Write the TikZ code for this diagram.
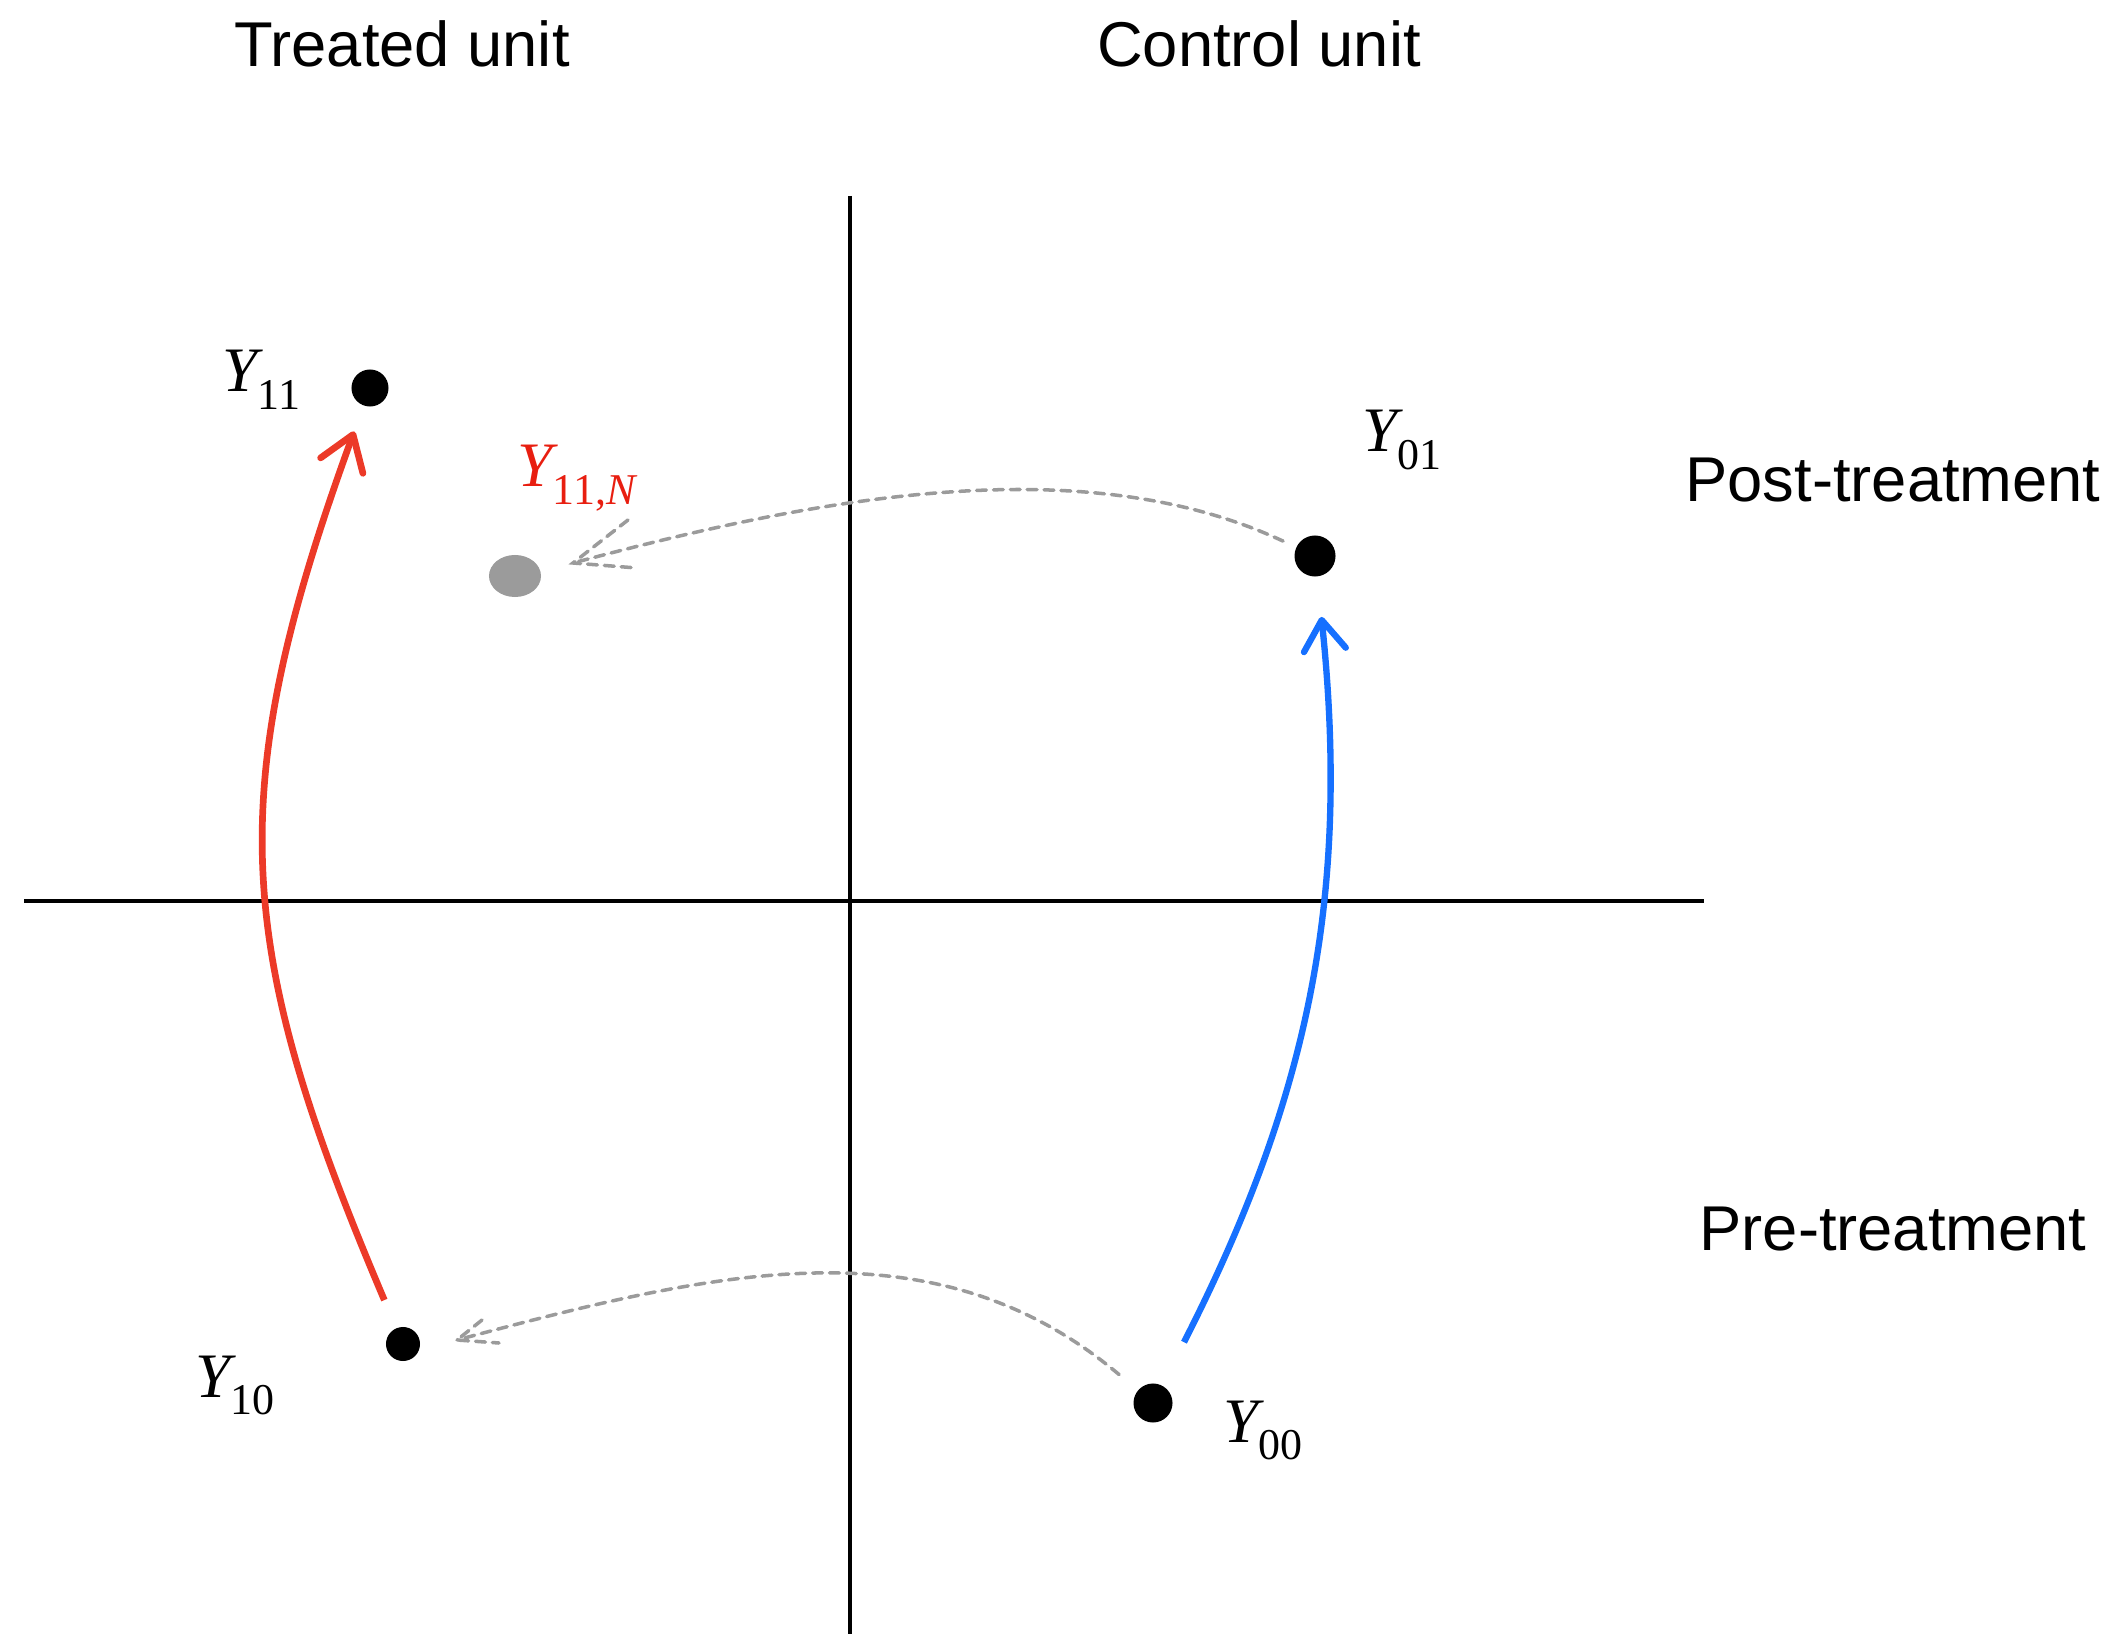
\documentclass[tikz,border=0pt]{standalone}
\usepackage{fontspec}
\setmainfont{Liberation Serif}
\newfontfamily\headfont{Liberation Sans}
\usetikzlibrary{arrows.meta,shapes.geometric}
\definecolor{treatred}{RGB}{236,58,40}
\definecolor{labelred}{RGB}{232,30,16}
\definecolor{ctrlblue}{RGB}{22,112,255}
\definecolor{dashgray}{RGB}{155,155,155}
\newcommand{\yvar}[1]{{\fontsize{18}{20}\selectfont\itshape Y}\raisebox{-0.17cm}{\fontsize{12.5}{14}\selectfont #1}}

\begin{document}
\begin{tikzpicture}[x=0.01cm, y=-0.01cm, >=stealth,
  dot/.style={circle, fill=black, inner sep=0pt, minimum size=0.37cm},
  lbl/.style={anchor=base west, inner sep=0pt},
  head/.style={font=\headfont\fontsize{18}{22}\selectfont, anchor=base, inner sep=0pt},
  ghost/.style={draw=dashgray, line width=1pt, dash pattern=on 2.8pt off 2pt, line cap=round}]
\useasboundingbox (0,0) rectangle (2115,1634);
% axes
\draw[line width=1.1pt] (850,196) -- (850,1634);
\draw[line width=1.1pt] (24,901) -- (1704,901);
% column and row titles
\node[head] (treated) at (402,67) {Treated unit};
\node[head] (control) at (1259,67) {Control unit};
\node[head] (post) at (1893,502) {Post-treatment};
\node[head] (pre) at (1893,1250) {Pre-treatment};
% outcomes
\node[dot] (y11) at (370,388) {};
\node[dot, minimum size=0.41cm] (y01) at (1315,556) {};
\node[dot, minimum size=0.34cm] (y10) at (403,1344) {};
\node[dot, minimum size=0.39cm] (y00) at (1153,1403) {};
\node[ellipse, fill=dashgray, inner sep=0pt, minimum width=0.52cm, minimum height=0.42cm] (y11n) at (515,576) {};
\node[lbl] (l11) at (222,392) {\yvar{11}};
\node[lbl, text=labelred] (l11n) at (517,487) {\yvar{11,\textit{N}}};
\node[lbl] (l01) at (1362,452) {\yvar{01}};
\node[lbl] (l10) at (195,1397) {\yvar{10}};
\node[lbl] (l00) at (1223,1442) {\yvar{00}};
% connectors
\draw[treatred, line width=1.9pt, -{Straight Barb[length=0.33cm,width=0.45cm,round]}, shorten <=0.3cm, shorten >=0.27cm] (y10) to[out=113,in=250,looseness=1.15] (y11);
\draw[ctrlblue, line width=1.8pt, -{Straight Barb[length=0.3cm,width=0.42cm,round]}, shorten <=0.48cm, shorten >=0.4cm] (y00) to[out=63,in=276] (y01);
\coordinate (tipA) at (573,563);
\coordinate (tipB) at (457,1340);
\draw[ghost, shorten <=0.14cm] (y01) to[out=155,in=15,looseness=0.85] (tipA);
\draw[ghost] (tipA) ++(55,-43) -- (tipA) -- ++(64,5);
\draw[ghost, shorten <=0.24cm] (y00) to[out=140,in=15] (tipB);
\draw[ghost] (tipB) ++(25,-20) -- (tipB) -- ++(42,3);
\end{tikzpicture}
\end{document}
